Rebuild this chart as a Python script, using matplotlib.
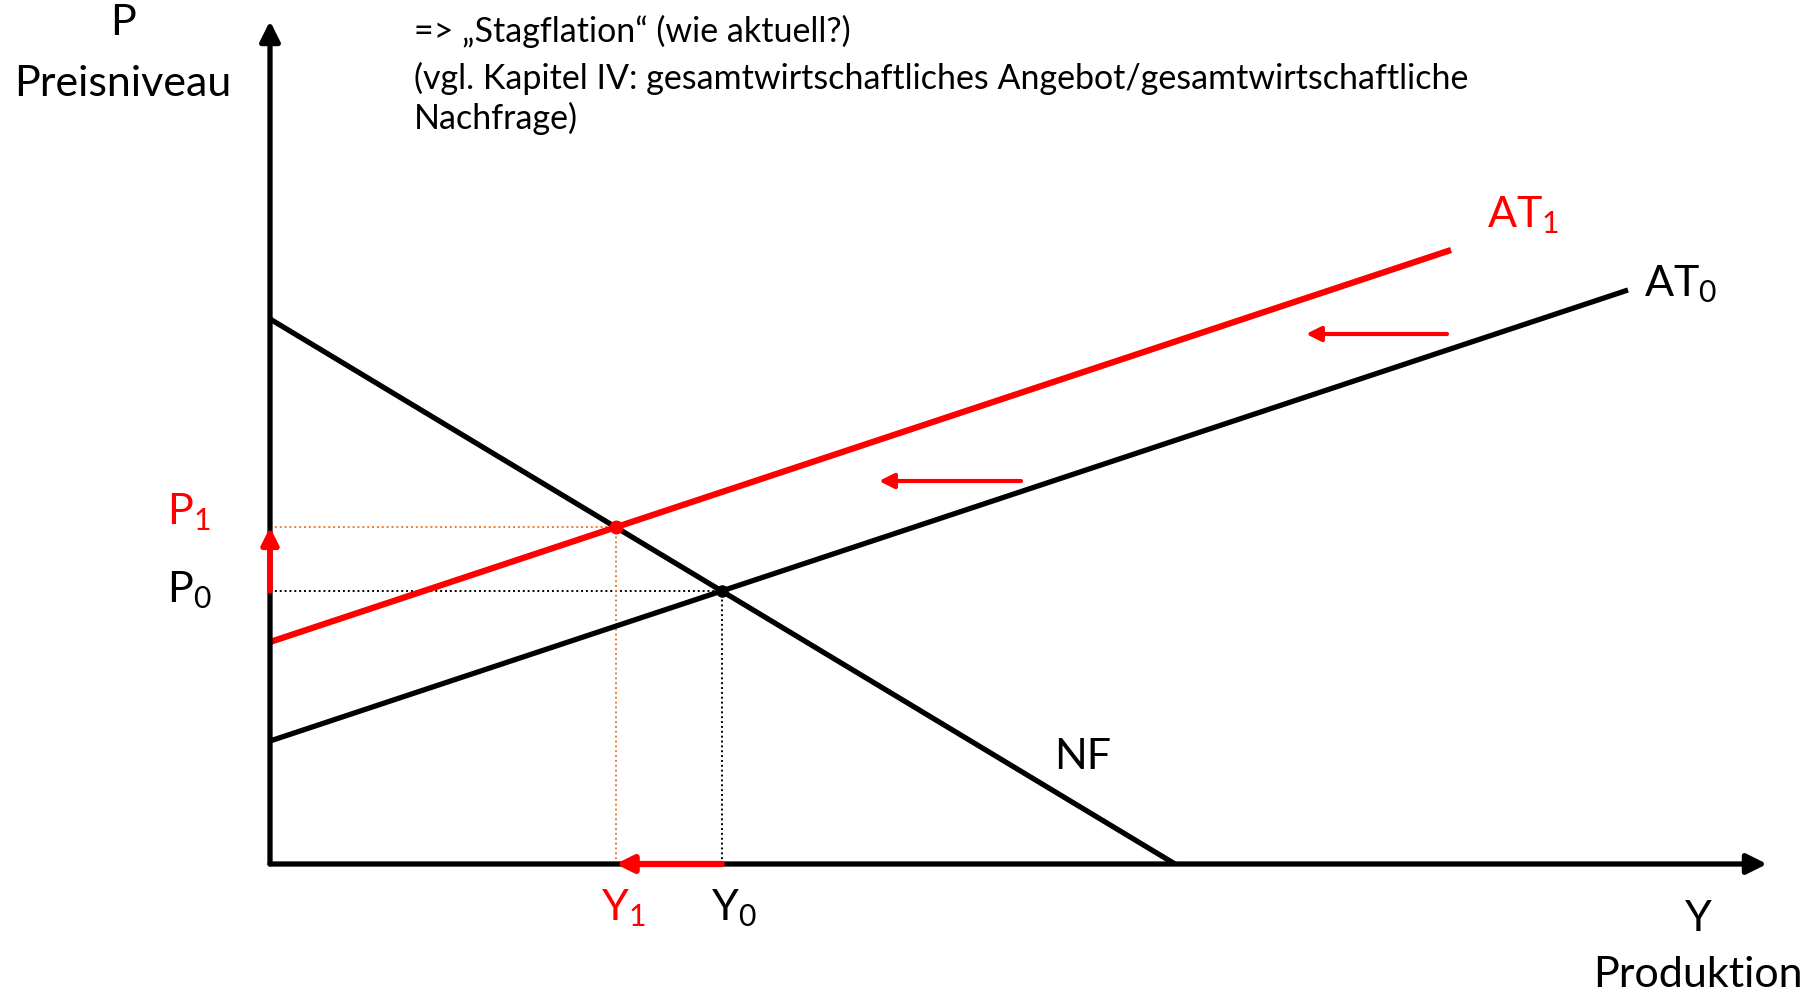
import numpy as np
import matplotlib
matplotlib.use('Agg')
import matplotlib.pyplot as plt

plt.rcParams['font.family'] = ['Lato', 'DejaVu Sans']

# model lines (intercept on P axis, end point)
nf_start = [0, 54.5]
nf_end = [90.5, 0]
at0_start = [0, 12.3]
at0_end = [135.8, 57.4]
at1_start = [0, 22.2]
at1_end = [118.1, 61.4]

# shift arrows (from, to)
shift_arrows = [[(117.7, 53.0), (103.6, 53.0)],
                [(75.1, 38.3), (60.9, 38.3)]]

text_lines = ['=> \u201eStagflation\u201c (wie aktuell?)',
              '(vgl. Kapitel IV: gesamtwirtschaftliches Angebot/gesamtwirtschaftliche',
              'Nachfrage)']

def line_coef(a, b):
    m = (b[1] - a[1]) / (b[0] - a[0])
    return m, a[1] - m * a[0]

def intersect(l1, l2):
    m1, c1 = line_coef(*l1)
    m2, c2 = line_coef(*l2)
    x = (c2 - c1) / (m1 - m2)
    return x, m1 * x + c1

y0, p0 = intersect((nf_start, nf_end), (at0_start, at0_end))
y1, p1 = intersect((nf_start, nf_end), (at1_start, at1_end))

fig = plt.figure(figsize=(18.2, 9.96), dpi=100)
ax = fig.add_axes([0, 0, 1, 1])
ax.set_xlim(-27, 155)
ax.set_ylim(-13.2, 86.4)
ax.axis('off')

orange = '#ED7D31'
red = '#FF0000'

# axes with arrows
ax.annotate('', xy=(0, 84.3), xytext=(0, 0),
            arrowprops=dict(arrowstyle='-|>', color='black', lw=3.8, mutation_scale=30, shrinkA=0, shrinkB=0))
ax.annotate('', xy=(149.7, 0), xytext=(0, 0),
            arrowprops=dict(arrowstyle='-|>', color='black', lw=3.8, mutation_scale=30, shrinkA=0, shrinkB=0))

# dotted helper lines
ax.plot([0, y0], [p0, p0], color='black', lw=1.4, ls=(0, (1, 1.5)))
ax.plot([y0, y0], [0, p0], color='black', lw=1.4, ls=(0, (1, 1.5)))
ax.plot([0, y1], [p1, p1], color=orange, lw=1.4, ls=(0, (1, 1.5)))
ax.plot([y1, y1], [0, p1], color=orange, lw=1.4, ls=(0, (1, 1.5)))

# curves
ax.plot([nf_start[0], nf_end[0]], [nf_start[1], nf_end[1]], color='black', lw=3.8, solid_capstyle='butt')
ax.plot([at0_start[0], at0_end[0]], [at0_start[1], at0_end[1]], color='black', lw=3.8, solid_capstyle='butt')
ax.plot([at1_start[0], at1_end[0]], [at1_start[1], at1_end[1]], color=red, lw=4.5, solid_capstyle='butt')

# equilibrium points
ax.plot([y0], [p0], 'o', color='black', ms=8)
ax.plot([y1], [p1], 'o', color=red, ms=9)

# red shift arrows on axes
ax.annotate('', xy=(0, p1), xytext=(0, p0),
            arrowprops=dict(arrowstyle='-|>', color=red, lw=4, mutation_scale=25, shrinkA=0, shrinkB=0))
ax.annotate('', xy=(y1, 0), xytext=(y0, 0),
            arrowprops=dict(arrowstyle='-|>', color=red, lw=4.5, mutation_scale=25, shrinkA=0, shrinkB=0))

for start, end in shift_arrows:
    ax.annotate('', xy=end, xytext=start,
                arrowprops=dict(arrowstyle='-|>', color=red, lw=3, mutation_scale=22, shrinkA=0, shrinkB=0))

# labels
fs = 31
ax.text(-14.7, 84.1, 'P', fontsize=fs, ha='center', va='center')
ax.text(-14.7, 78.0, 'Preisniveau', fontsize=fs, ha='center', va='center')
ax.text(142.8, -5.5, 'Y', fontsize=fs, ha='center', va='center')
ax.text(142.8, -11.1, 'Produktion', fontsize=fs, ha='center', va='center')
ax.text(-8.1, 35.2, r'$\mathregular{P_1}$', fontsize=fs, color=red, ha='center', va='center')
ax.text(-8.1, 27.4, r'$\mathregular{P_0}$', fontsize=fs, ha='center', va='center')
ax.text(35.3, -4.4, r'$\mathregular{Y_1}$', fontsize=fs, color=red, ha='center', va='center')
ax.text(46.4, -4.4, r'$\mathregular{Y_0}$', fontsize=fs, ha='center', va='center')
ax.text(125.3, 64.9, r'$\mathregular{AT_1}$', fontsize=fs, color=red, ha='center', va='center')
ax.text(141.1, 58.0, r'$\mathregular{AT_0}$', fontsize=fs, ha='center', va='center')
ax.text(81.3, 10.7, 'NF', fontsize=fs, ha='center', va='center')

for txt, yy in zip(text_lines, [83.3, 78.6, 74.6]):
    ax.text(14.4, yy, txt, fontsize=24.5, ha='left', va='center')

fig.savefig('out.png', dpi=100)
